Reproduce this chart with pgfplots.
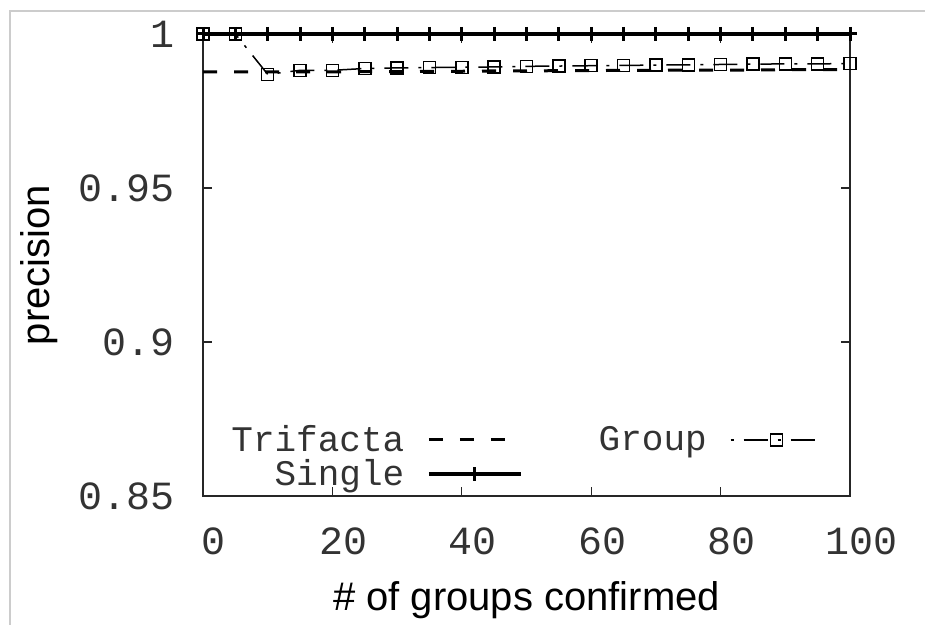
\documentclass[border=0pt]{standalone}
\usepackage{pgfplots}
\pgfplotsset{compat=1.18}
\usepackage{fontspec}
\setmainfont{Liberation Sans}
\setmonofont{Liberation Mono}
\begin{document}
\begin{tikzpicture}
\useasboundingbox (0,0) rectangle (462.5pt,312.5pt);
\draw[gray!40, line width=0.6pt] (5pt,0) -- (5pt,307pt) -- (462.5pt,307pt);
\begin{axis}[
  at={(101.5pt,64.5pt)}, anchor=south west,
  scale only axis, width=323.5pt, height=231pt,
  xmin=0, xmax=100, ymin=0.85, ymax=1,
  clip=false,
  xtick={0,20,40,60,80,100}, xticklabels={0,20,40,60,80,100},
  ytick={0.85,0.9,0.95,1}, yticklabels={0.85,0.9,0.95,1},
  tick align=inside, major tick length=4.5pt,
  axis line style={line width=0.75pt, black!85},
  tick style={line width=0.6pt, black!85},
  xticklabel style={font=\ttfamily\fontsize{20}{20}\selectfont, text=black!80, anchor=center, inner sep=0pt, yshift=-22.5pt, xshift=5.5pt},
  yticklabel style={font=\ttfamily\fontsize{20}{20}\selectfont, text=black!80, anchor=east, inner sep=0pt, xshift=-14pt},
  every axis x label/.style={at={(axis description cs:0.5,-0.2468)}, anchor=base},
  every axis y label/.style={at={(axis description cs:-0.2365,0.5)}, rotate=90, anchor=base},
  label style={font=\fontsize{20}{20}\selectfont},
  xlabel={\# of groups confirmed}, ylabel={precision},
  legend columns=2,
  legend plot pos=right,
  legend cell align=right,
  legend image code/.code={
    \draw[mark repeat=2,mark phase=2,#1] plot coordinates {(0pt,0pt) (23pt,0pt) (46pt,0pt)};
  },
  legend style={at={(axis description cs:0.0433,0.1537)}, anchor=north west,
    draw=none, fill=none, inner sep=0pt,
    font=\ttfamily\fontsize{18}{18}\selectfont, text=black!80,
    nodes={inner sep=0pt},
    column sep=11.5pt, row sep=2.5pt,
    /tikz/every even column/.append style={column sep=38pt}},
]
\addplot[black, line width=1.5pt, dash pattern=on 7pt off 8.5pt] coordinates {
(0,0.9877) (5,0.9877) (10,0.9877) (15,0.9877) (20,0.9877) (25,0.9878) (30,0.9878)
(35,0.9879) (40,0.9879) (45,0.9880) (50,0.9880) (55,0.9881) (60,0.9881) (65,0.9882)
(70,0.9882) (75,0.9883) (80,0.9883) (85,0.9883) (90,0.9884) (95,0.9884) (100,0.9884)};
\addlegendentry{Trifacta}
\addplot[black, line width=0.75pt, dash pattern=on 1.5pt off 5pt on 12pt off 5pt,
  mark=square, mark size=3pt, mark options={solid, line width=0.75pt}] coordinates {
(0,1) (5,1) (10,0.9869) (15,0.9882) (20,0.9882) (25,0.9888) (30,0.9890)
(35,0.9891) (40,0.9892) (45,0.9893) (50,0.9895) (55,0.9896) (60,0.9897) (65,0.9898)
(70,0.9899) (75,0.9900) (80,0.9901) (85,0.9902) (90,0.9903) (95,0.9903) (100,0.9904)};
\addlegendentry{Group}
\addplot[black, line width=1.75pt, mark=+, mark size=3.5pt, mark options={line width=1.5pt}] coordinates {
(0,1) (5,1) (10,1) (15,1) (20,1) (25,1) (30,1) (35,1) (40,1) (45,1) (50,1)
(55,1) (60,1) (65,1) (70,1) (75,1) (80,1) (85,1) (90,1) (95,1) (100,1)};
\addlegendentry{Single}
\end{axis}
\end{tikzpicture}
\end{document}
